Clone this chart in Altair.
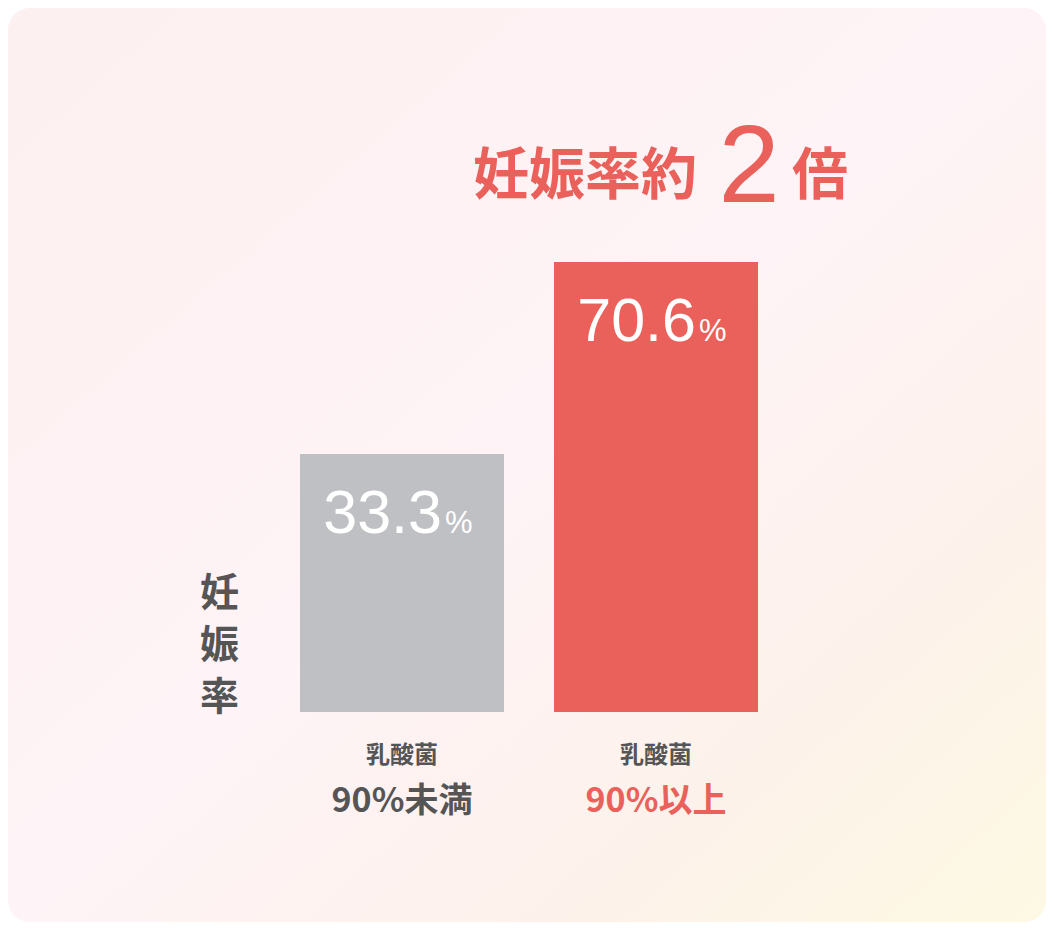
import altair as alt
import pandas as pd

# ---- data ----
categories = ["乳酸菌90%未満", "乳酸菌90%以上"]
label_top = ["乳酸菌", "乳酸菌"]
label_bottom = ["90%未満", "90%以上"]
rates = [33.3, 70.6]
bar_colors = ["#BEC0C4", "#EA605A"]
label_colors = ["#555555", "#EA605A"]
title_parts = ["妊娠率約", "2", "倍"]
y_title = ["妊", "娠", "率"]

# scale extent (bars start below zero in the original design)
BASE = -16.8
TOP = 80.3

W, H = 458, 500
PAD = {"left": 292, "top": 204, "right": 288, "bottom": 210}

df = pd.DataFrame({
    "cat": categories,
    "rate": rates,
    "top": label_top,
    "bottom": label_bottom,
    "bar_color": bar_colors,
    "label_color": label_colors,
})
df_red = df.iloc[[1]].copy()
df_red["t1"] = title_parts[0]
df_red["t2"] = title_parts[1]
df_red["t3"] = title_parts[2]

x_enc = alt.X("cat:N", sort=categories, axis=None,
              scale=alt.Scale(paddingInner=50 / 254, paddingOuter=0))
y_scale = alt.Scale(domain=[BASE, TOP], nice=False, zero=False)

NUM_FONT = "Liberation Sans"
CJK_FONT = "Noto Sans CJK JP"

bg_grad = alt.LinearGradient(
    gradient="linear",
    stops=[
        alt.GradientStop(color="#FDF0F0", offset=0),
        alt.GradientStop(color="#FEF3F6", offset=0.5),
        alt.GradientStop(color="#FDF2EA", offset=0.78),
        alt.GradientStop(color="#FDF9E3", offset=1),
    ],
    x1=0, y1=0, x2=1, y2=1,
)

background = alt.Chart(pd.DataFrame({"a": [0]})).mark_rect(
    color=bg_grad, cornerRadius=22
).encode(
    x=alt.value(-PAD["left"]),
    x2=alt.value(W + PAD["right"]),
    y=alt.value(-PAD["top"]),
    y2=alt.value(H + PAD["bottom"]),
)

base = alt.Chart(df)

bars = base.mark_bar().encode(
    x=x_enc,
    y=alt.Y("rate:Q", scale=y_scale,
            axis=alt.Axis(labels=False, ticks=False, domain=False, grid=False,
                          title=y_title, titleAngle=0, titleFont=CJK_FONT,
                          titleFontSize=39, titleFontWeight="bold",
                          titleColor="#555555", titleLineHeight=52,
                          titleAlign="center", titleBaseline="alphabetic",
                          titleX=-81, titleY=393, zindex=2)),
    y2=alt.datum(BASE),
    color=alt.Color("bar_color:N", scale=None),
)

value_num = base.mark_text(
    align="right", baseline="alphabetic", dx=40, dy=79,
    font=NUM_FONT, fontSize=61, color="white"
).encode(
    x=x_enc, y=alt.Y("rate:Q", scale=y_scale),
    text=alt.Text("rate:Q", format=".1f"),
)

value_pct = base.mark_text(
    align="left", baseline="alphabetic", dx=43, dy=79,
    font=NUM_FONT, fontSize=31, color="white", text="%"
).encode(
    x=x_enc, y=alt.Y("rate:Q", scale=y_scale),
)

lab_top = base.mark_text(
    align="center", baseline="alphabetic", dy=51,
    font=CJK_FONT, fontSize=24, fontWeight="bold", color="#555555"
).encode(
    x=x_enc, y=alt.datum(BASE, scale=y_scale), text="top:N",
)

lab_bottom = base.mark_text(
    align="center", baseline="alphabetic", dy=100,
    font=CJK_FONT, fontSize=34, fontWeight="bold"
).encode(
    x=x_enc, y=alt.datum(BASE, scale=y_scale), text="bottom:N",
    color=alt.Color("label_color:N", scale=None),
)

red = alt.Chart(df_red)
t1 = red.mark_text(
    align="center", baseline="alphabetic", dx=-71, dy=-18,
    font=CJK_FONT, fontSize=56, fontWeight="bold", color="#EA605A"
).encode(x=x_enc, y=alt.datum(TOP, scale=y_scale), text="t1:N")
t2 = red.mark_text(
    align="center", baseline="alphabetic", dx=93, dy=-10,
    font=NUM_FONT, fontSize=110, color="#EA605A"
).encode(x=x_enc, y=alt.datum(TOP, scale=y_scale), text="t2:N")
t3 = red.mark_text(
    align="center", baseline="alphabetic", dx=164, dy=-18,
    font=CJK_FONT, fontSize=56, fontWeight="bold", color="#EA605A"
).encode(x=x_enc, y=alt.datum(TOP, scale=y_scale), text="t3:N")

chart = alt.layer(
    background, bars, value_num, value_pct, lab_top, lab_bottom, t1, t2, t3
).properties(
    width=W, height=H,
    autosize=alt.AutoSizeParams(type="none"),
    padding=PAD,
    background="white",
).configure_view(stroke=None)

chart.save("out.html", embed_options={"renderer": "svg", "actions": False})
